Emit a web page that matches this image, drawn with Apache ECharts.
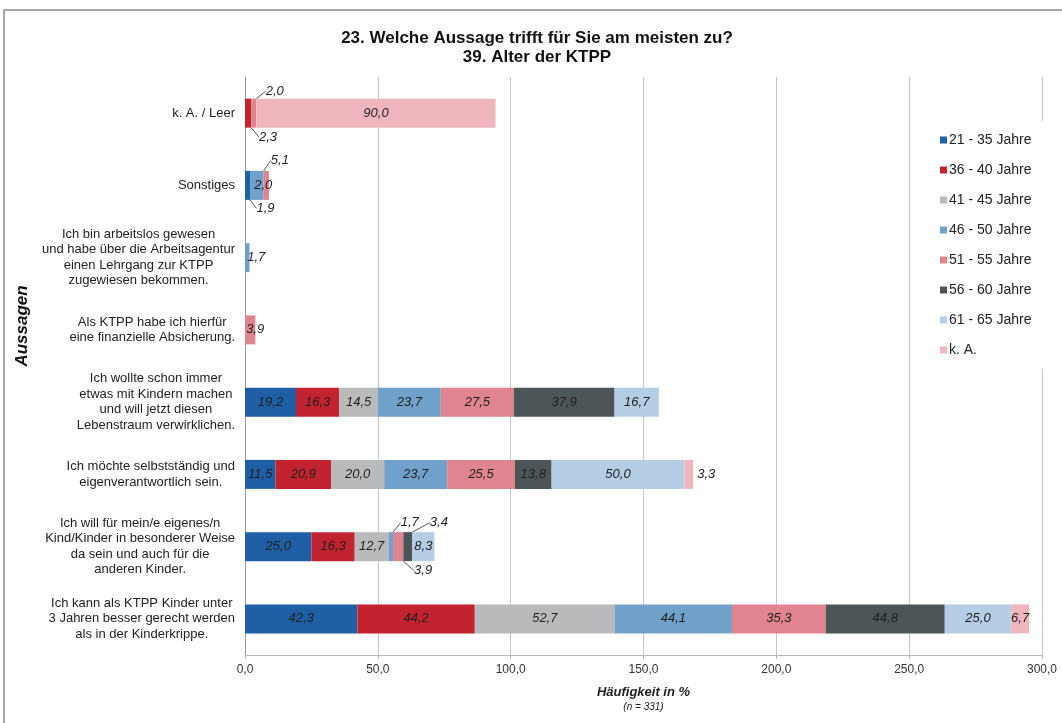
<!DOCTYPE html>
<html>
<head>
<meta charset="utf-8">
<script src="https://cdn.jsdelivr.net/npm/echarts@6/dist/echarts.min.js"></script>
<style>
  html, body { margin: 0; padding: 0; background: #fff; }
  #chart { width: 1062px; height: 723px; }
</style>
</head>
<body>
<div id="chart"></div>
<script>
// Aussagen, von oben nach unten
const aussagen = [
  'k. A. / Leer',
  'Sonstiges',
  'Ich bin arbeitslos gewesen\nund habe über die Arbeitsagentur\neinen Lehrgang zur KTPP\nzugewiesen bekommen.',
  'Als KTPP habe ich hierfür\neine finanzielle Absicherung.',
  'Ich wollte schon immer\netwas mit Kindern machen\nund will jetzt diesen\nLebenstraum verwirklichen.',
  'Ich möchte selbstständig und\neigenverantwortlich sein.',
  'Ich will für mein/e eigenes/n\nKind/Kinder in besonderer Weise\nda sein und auch für die\nanderen Kinder.',
  'Ich kann als KTPP Kinder unter\n3 Jahren besser gerecht werden\nals in der Kinderkrippe.'
]

const altersgruppen = ['21 - 35 Jahre', '36 - 40 Jahre', '41 - 45 Jahre', '46 - 50 Jahre',
  '51 - 55 Jahre', '56 - 60 Jahre', '61 - 65 Jahre', 'k. A.']

// Häufigkeit in % je Altersgruppe (gleiche Reihenfolge wie aussagen)
const alter2135 = [0, 1.9, 0, 0, 19.2, 11.5, 25.0, 42.3]
const alter3640 = [2.3, 0, 0, 0, 16.3, 20.9, 16.3, 44.2]
const alter4145 = [0, 0, 0, 0, 14.5, 20.0, 12.7, 52.7]
const alter4650 = [0, 5.1, 1.7, 0, 23.7, 23.7, 1.7, 44.1]
const alter5155 = [2.0, 2.0, 0, 3.9, 27.5, 25.5, 3.9, 35.3]
const alter5660 = [0, 0, 0, 0, 37.9, 13.8, 3.4, 44.8]
const alter6165 = [0, 0, 0, 0, 16.7, 50.0, 8.3, 25.0]
const alterKA = [90.0, 0, 0, 0, 0, 3.3, 0, 6.7]

const xTicks = [0, 50, 100, 150, 200, 250, 300]

const werte = [alter2135, alter3640, alter4145, alter4650, alter5155, alter5660, alter6165, alterKA]
const farben = ['#1f5fa6', '#c3232e', '#b9babc', '#6fa1ca', '#e0858f', '#4c5558', '#b5cee6', '#efb6be']

// kleine Segmente: Beschriftung verschoben, zum Teil mit Führungslinie
const verschoben = [
  {s: 1, i: 0, dx: 20, dy: 24, line: true},
  {s: 4, i: 0, dx: 21, dy: -22, line: true},
  {s: 0, i: 1, dx: 18, dy: 23, line: true},
  {s: 3, i: 1, dx: 23, dy: -25, line: true},
  {s: 4, i: 1, dx: -3, dy: 0},
  {s: 3, i: 2, dx: 9, dy: 0},
  {s: 4, i: 3, dx: 5, dy: 0},
  {s: 3, i: 6, dx: 19, dy: -24, line: true},
  {s: 4, i: 6, dx: 25, dy: 24, line: true},
  {s: 5, i: 6, dx: 31, dy: -24, line: true}
]

const fmt = v => v.toFixed(1).replace('.', ',')
const font = '"Liberation Sans", Arial, sans-serif'

const series = werte.map((arr, s) => ({
  name: altersgruppen[s],
  type: 'bar',
  stack: 'gesamt',
  barWidth: 29,
  itemStyle: {color: farben[s]},
  label: {
    show: true,
    position: 'inside',
    fontFamily: font,
    fontStyle: 'italic',
    fontSize: 13,
    color: '#1e1e1e',
    formatter: p => (p.value ? fmt(p.value) : '')
  },
  labelLayout: p => {
    const v = verschoben.find(o => o.s === p.seriesIndex && o.i === p.dataIndex)
    return v ? {dx: v.dx, dy: v.dy} : {}
  },
  data: arr.map((v, i) => {
    if (!v) return '-'
    const item = {value: v}
    const sh = verschoben.find(o => o.s === s && o.i === i)
    if (sh && sh.line) item.labelLine = {show: true, lineStyle: {color: '#555', width: 1}}
    if (s === 7 && i === 5) item.label = {position: 'right', distance: 4}
    return item
  })
}))

const myChart = echarts.init(document.getElementById('chart'))
myChart.setOption({
  animation: false,
  backgroundColor: '#fff',
  textStyle: {fontFamily: font},
  title: {
    text: '23. Welche Aussage trifft für Sie am meisten zu?\n39. Alter der KTPP',
    left: 532,
    top: 24,
    textAlign: 'center',
    textStyle: {fontFamily: font, fontWeight: 'bold', fontSize: 17, lineHeight: 19, color: '#111'}
  },
  graphic: [{
    type: 'rect',
    z: 100,
    shape: {x: 4, y: 10, width: 1080, height: 730},
    style: {fill: 'none', stroke: '#8a8a8a', lineWidth: 1.5},
    silent: true
  }],
  legend: {
    orient: 'vertical',
    left: 930,
    top: 121,
    padding: [12, 16, 12, 10],
    backgroundColor: '#fff',
    itemWidth: 7,
    itemHeight: 7,
    itemGap: 16,
    icon: 'rect',
    data: altersgruppen,
    textStyle: {fontFamily: font, fontSize: 14, color: '#222', padding: [0, 0, 0, -3]}
  },
  grid: {left: 245, right: 20, top: 77, bottom: 68},
  xAxis: {
    type: 'value',
    min: xTicks[0],
    max: xTicks[xTicks.length - 1],
    interval: 50,
    name: '{a|Häufigkeit in %}\n{b|(n = 331)}',
    nameLocation: 'middle',
    nameGap: 29,
    nameTextStyle: {
      rich: {
        a: {fontFamily: font, fontSize: 13, fontWeight: 'bold', fontStyle: 'italic', color: '#222', lineHeight: 17},
        b: {fontFamily: font, fontSize: 10, fontStyle: 'italic', color: '#222', lineHeight: 13}
      }
    },
    axisLabel: {formatter: v => fmt(v), fontSize: 12, color: '#333', margin: 9},
    axisLine: {show: true, lineStyle: {color: '#b8b8b8'}},
    axisTick: {show: true, length: 4, lineStyle: {color: '#b8b8b8'}},
    splitLine: {lineStyle: {color: '#c4c4c4', width: 1}}
  },
  yAxis: {
    type: 'category',
    inverse: true,
    data: aussagen,
    name: 'Aussagen',
    nameLocation: 'middle',
    nameGap: 214,
    nameRotate: 90,
    nameTextStyle: {fontFamily: font, fontSize: 17, fontWeight: 'bold', fontStyle: 'italic', color: '#111',
      padding: [0, 0, 0, 80]},
    axisLine: {show: true, lineStyle: {color: '#999'}},
    axisTick: {show: false},
    axisLabel: {
      margin: 10,
      formatter: v => v.split('\n').map(l => '{c|' + l + '}').join('\n'),
      rich: {c: {align: 'center', fontFamily: font, fontSize: 13, lineHeight: 15.5, color: '#222'}}
    }
  },
  series: series
})
</script>
</body>
</html>
